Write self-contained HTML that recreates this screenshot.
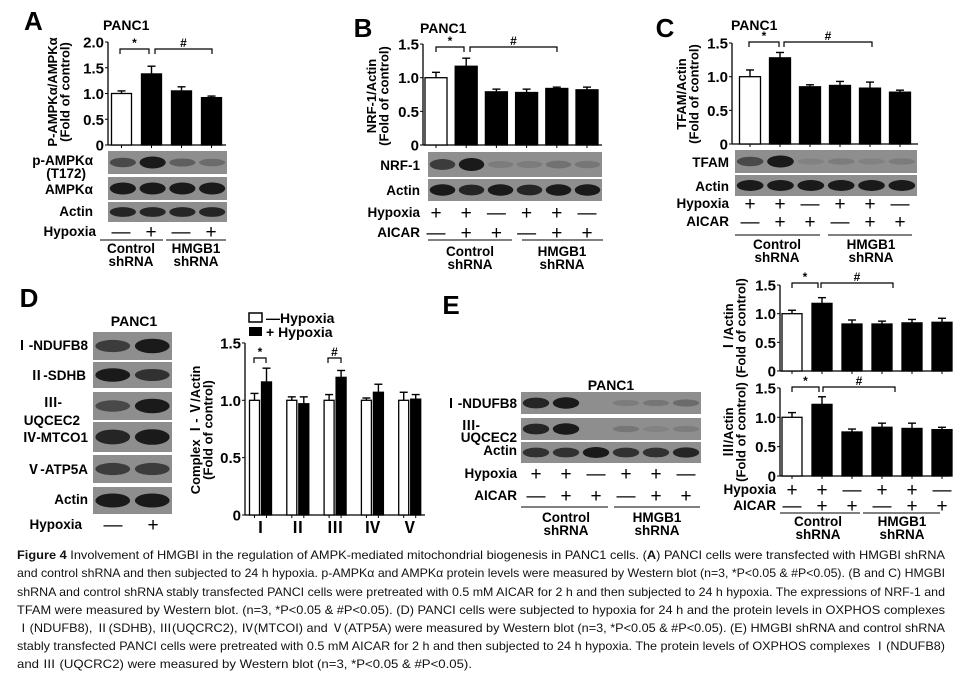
<!DOCTYPE html>
<html><head><meta charset="utf-8"><style>
body{margin:0;background:#fff}
svg{display:block;font-family:"Liberation Sans","Noto Sans CJK SC",sans-serif}
.b{font-weight:bold}
.cap{font-size:11.6px}
</style></head><body>
<svg id="fig" width="962" height="689" viewBox="0 0 962 689" xmlns="http://www.w3.org/2000/svg">
<g id="root"></g>
<g class="cap" fill="#111">
<text x="17" y="559" textLength="928" lengthAdjust="spacingAndGlyphs"><tspan font-weight="bold">Figure 4</tspan> Involvement of HMGBI in the regulation of AMPK-mediated mitochondrial biogenesis in PANC1 cells. (<tspan font-weight="bold">A</tspan>) PANCI cells were transfected with HMGBI shRNA</text>
<text x="17" y="577" textLength="928" lengthAdjust="spacingAndGlyphs">and control shRNA and then subjected to 24 h hypoxia. p-AMPKα and AMPKα protein levels were measured by Western blot (n=3, *P&lt;0.05 &amp; #P&lt;0.05). (B and C) HMGBI</text>
<text x="17" y="596" textLength="928" lengthAdjust="spacingAndGlyphs">shRNA and control shRNA stably transfected PANCI cells were pretreated with 0.5 mM AICAR for 2 h and then subjected to 24 h hypoxia. The expressions of NRF-1 and</text>
<text x="17" y="614" textLength="928" lengthAdjust="spacingAndGlyphs">TFAM were measured by Western blot. (n=3, *P&lt;0.05 &amp; #P&lt;0.05). (D) PANCI cells were subjected to hypoxia for 24 h and the protein levels in OXPHOS complexes</text>
<text x="17" y="632" textLength="928" lengthAdjust="spacingAndGlyphs">Ⅰ(NDUFB8), Ⅱ(SDHB), Ⅲ(UQCRC2), Ⅳ(MTCOI) and Ⅴ(ATP5A) were measured by Western blot (n=3, *P&lt;0.05 &amp; #P&lt;0.05). (E) HMGBI shRNA and control shRNA</text>
<text x="17" y="650" textLength="928" lengthAdjust="spacingAndGlyphs">stably transfected PANCI cells were pretreated with 0.5 mM AICAR for 2 h and then subjected to 24 h hypoxia. The protein levels of OXPHOS complexes Ⅰ(NDUFB8)</text>
<text x="17" y="668" textLength="455" lengthAdjust="spacingAndGlyphs">and Ⅲ (UQCRC2) were measured by Western blot (n=3, *P&lt;0.05 &amp; #P&lt;0.05).</text>
</g>
</svg>
<script>
// ---- data ----
const catsA=['ctrl-','ctrl+','hmgb1-','hmgb1+'];
const valsA=[1.0,1.38,1.05,0.92];
const errA=[0.05,0.15,0.08,0.03];
const ticksA=['0','0.5','1.0','1.5','2.0'];
const catsB=['1','2','3','4','5','6'];
const valsB=[1.0,1.17,0.79,0.78,0.84,0.82];
const errB=[0.08,0.12,0.04,0.05,0.02,0.04];
const valsC=[1.0,1.28,0.85,0.87,0.83,0.77];
const errC=[0.1,0.08,0.03,0.06,0.09,0.03];
const ticks15=['0','0.5','1.0','1.5'];
const catsD=['Ⅰ','Ⅱ','Ⅲ','Ⅳ','Ⅴ'];
const valsDwhite=[1.0,1.0,1.0,1.0,1.0];
const errDwhite=[0.06,0.03,0.05,0.02,0.07];
const valsDblack=[1.16,0.97,1.2,1.07,1.01];
const errDblack=[0.12,0.06,0.06,0.07,0.04];
const valsE1=[1.0,1.18,0.82,0.82,0.84,0.85];
const errE1=[0.06,0.1,0.07,0.05,0.06,0.07];
const valsE3=[1.0,1.22,0.75,0.83,0.81,0.79];
const errE3=[0.08,0.13,0.05,0.07,0.09,0.04];

const NS='http://www.w3.org/2000/svg';
const root=document.getElementById('root');
function el(tag,attrs,parent,text){const e=document.createElementNS(NS,tag);for(const k in attrs)e.setAttribute(k,attrs[k]);if(text!==undefined)e.textContent=text;(parent||root).appendChild(e);return e;}
function txt(x,y,s,anchor,parent,size,weight){return el('text',{x:x,y:y,'text-anchor':anchor||'middle',style:`font-size:${size||13.5}px;font-weight:${weight||'bold'}`},parent,s);}

function chart(name,cfg){
  const g=el('g',{},root);
  
  
  const ys=v=>cfg.y0-v*cfg.unit;
  const xs=i=>cfg.c0+i*cfg.sp;
  el('line',{x1:cfg.ax,y1:cfg.y0,x2:cfg.ax,y2:ys(cfg.max),stroke:'#000','stroke-width':1.3},g);
  el('line',{x1:cfg.ax,y1:cfg.y0,x2:cfg.axEnd,y2:cfg.y0,stroke:'#000','stroke-width':1.3},g);
  cfg.ticks.forEach(t=>{const v=parseFloat(t);el('line',{x1:cfg.ax-3,y1:ys(v),x2:cfg.ax,y2:ys(v),stroke:'#000'},g);
    const lab=txt(cfg.ax-4,ys(v)+5.5,t,'end',g,15);});
  cfg.series.forEach(s=>{
    s.vals.forEach((v,i)=>{
      const cx=xs(i)+(s.off||0);
      const fill=s.fill?s.fill(i):'#000';
      const e=s.err[i];
      el('line',{x1:cx,y1:ys(v),x2:cx,y2:ys(v+e),stroke:'#000','stroke-width':1.4},g);
      el('line',{x1:cx-4,y1:ys(v+e),x2:cx+4,y2:ys(v+e),stroke:'#000','stroke-width':1.4},g);
      const r=el('rect',{x:cx-cfg.w/2,y:ys(v),width:cfg.w,height:v*cfg.unit,fill:fill,stroke:'#000','stroke-width':1.3},g);
      
      
      el('line',{x1:cx,y1:cfg.y0,x2:cx,y2:cfg.y0+3,stroke:'#000'},g);
    });
  });
  (cfg.brackets||[]).forEach(b=>{
    el('path',{d:`M${b[0]} ${b[2]+5}V${b[2]}H${b[1]}V${b[2]+5}`,fill:'none',stroke:'#000','stroke-width':1.2},g);
    txt((b[0]+b[1])/2,b[2]-2,b[3],'middle',g,12);
  });
  if(cfg.ylab){const t=el('text',{transform:`translate(${cfg.ylab[0]},${cfg.ylab[1]}) rotate(-90)`,'text-anchor':'middle',style:'font-size:13px;font-weight:bold'},g);
    
    cfg.ylab[2].forEach((l,k)=>el('tspan',{x:0,dy:k?12.5:0},t,l));}
  return g;
}
function blot(name,x,y,w,h,bands){
  const g=el('g',{},root);
  
  
  el('rect',{x:x,y:y,width:w,height:h,fill:'#8e8e8e'},g);
  const n=bands.length,sp=w/n;
  bands.forEach((d,i)=>{el('ellipse',{cx:x+sp*(i+0.5),cy:y+h/2,rx:sp*0.44,ry:h*0.12+d*h*0.14,fill:'#1a1a1a',opacity:d},g);});
}
function labels(arr,x0,sp,y){arr.forEach((s,i)=>{txt(x0+i*sp,y,s==='+'?'+':'—','middle',root,19,'normal');});}
function rowLabel(x,y,s){txt(x,y,s,'end');}

// ===== A =====
txt(24,30,'A','start',root,26);
txt(103,30,'PANC1','start',root,14);
chart('chart-a',{ax:108,axEnd:226,y0:145,unit:51.5,max:2.0,c0:121.5,sp:30,w:20,ticks:ticksA,
  series:[{vals:valsA,err:errA,fill:i=>i==0?'#fff':'#000'}],
  brackets:[[120,149,49,'*'],[155,212,49,'#']],ylab:[57,92,['P-AMPKα/AMPKα','(Fold of control)']]});
blot('blot-p-ampk',108,151,119,23,[0.6,1,0.4,0.3]);
blot('blot-ampk',108,177,119,23,[1,1,1,1]);
blot('blot-actin-a',108,202,119,20,[0.9,0.9,0.9,0.9]);
rowLabel(93,165,'p-AMPKα');rowLabel(86,178,'(T172)');rowLabel(93,194,'AMPKα');rowLabel(93,216,'Actin');rowLabel(96,236,'Hypoxia');
labels(['-','+','-','+'],121,30,238);
el('line',{x1:100,y1:240,x2:163,y2:240,stroke:'#000'});el('line',{x1:166,y1:240,x2:226,y2:240,stroke:'#000'});
txt(131,253,'Control');txt(131,266,'shRNA');txt(196,253,'HMGB1');txt(196,266,'shRNA');

// ===== B =====
txt(363,37,'B','middle',root,26);
txt(420,33,'PANC1','start',root,14);
chart('chart-b',{ax:423,axEnd:602,y0:145,unit:67.3,max:1.5,c0:436,sp:30.2,w:22,ticks:ticks15,
  series:[{vals:valsB,err:errB,fill:i=>i==0?'#fff':'#000'}],
  brackets:[[436,464,47,'*'],[470,557,47,'#']],ylab:[376,96,['NRF-1/Actin','(Fold of control)']]});
blot('blot-nrf1',428,152,174,25,[0.7,1,0.15,0.15,0.25,0.2]);
blot('blot-actin-b',428,179,174,22,[1,0.9,1,0.9,1,1]);
rowLabel(420,170,'NRF-1');rowLabel(420,195,'Actin');rowLabel(420,217,'Hypoxia');rowLabel(420,237,'AICAR');
labels(['+','+','-','+','+','-'],436,30.2,219);labels(['-','+','+','-','+','+'],436,30.2,239);
el('line',{x1:428,y1:240,x2:512,y2:240,stroke:'#000'});el('line',{x1:522,y1:240,x2:603,y2:240,stroke:'#000'});
txt(470,256,'Control');txt(470,269,'shRNA');txt(562,256,'HMGB1');txt(562,269,'shRNA');

// ===== C =====
txt(665,37,'C','middle',root,26);
txt(731,30,'PANC1','start',root,14);
chart('chart-c',{ax:732,axEnd:918,y0:144,unit:67.3,max:1.5,c0:750,sp:30,w:21,ticks:ticks15,
  series:[{vals:valsC,err:errC,fill:i=>i==0?'#fff':'#000'}],
  brackets:[[749,779,42,'*'],[784,872,42,'#']],ylab:[686,94,['TFAM/Actin','(Fold of control)']]});
blot('blot-tfam',735,150,182,23,[0.6,1,0.1,0.15,0.1,0.15]);
blot('blot-actin-c',735,175,182,21,[1,1,1,1,1,1]);
rowLabel(729,167,'TFAM');rowLabel(729,191,'Actin');rowLabel(729,208,'Hypoxia');rowLabel(729,226,'AICAR');
labels(['+','+','-','+','+','-'],750,30,210);labels(['-','+','+','-','+','+'],750,30,228);
el('line',{x1:735,y1:235,x2:820,y2:235,stroke:'#000'});el('line',{x1:828,y1:235,x2:912,y2:235,stroke:'#000'});
txt(777,249,'Control');txt(777,262,'shRNA');txt(871,249,'HMGB1');txt(871,262,'shRNA');

// ===== D =====
txt(29,307,'D','middle',root,26);
txt(134,326,'PANC1',undefined,root,14);
blot('blot-ndufb8-d',93,332,79,28,[0.7,1]);
blot('blot-sdhb-d',93,362,79,26,[1,0.8]);
blot('blot-uqcrc2-d',93,392,79,28,[0.6,1]);
blot('blot-mtco1-d',93,422,79,30,[0.9,1]);
blot('blot-atp5a-d',93,455,79,28,[0.7,0.7]);
blot('blot-actin-d',93,487,79,27,[1,1]);
rowLabel(88,350,'Ⅰ-NDUFB8');rowLabel(86,380,'Ⅱ-SDHB');rowLabel(62,407,'Ⅲ-');rowLabel(80,425,'UQCEC2');rowLabel(88,442,'Ⅳ-MTCO1');rowLabel(88,474,'Ⅴ-ATP5A');rowLabel(88,504,'Actin');rowLabel(82,529,'Hypoxia');
labels(['-','+'],113,40,531);
chart('chart-d',{ax:245,axEnd:425,y0:515,unit:114.7,max:1.5,c0:260.5,sp:37.3,w:10,ticks:ticks15,
  series:[{vals:valsDwhite,err:errDwhite,fill:()=>'#fff',off:-6},{vals:valsDblack,err:errDblack,fill:()=>'#000',off:6}],
  brackets:[[254,266,358,'*'],[328,341,358,'#']],ylab:[200,430,['Complex Ⅰ- Ⅴ/Actin','(Fold of control)']]});
catsD.forEach((c,i)=>{const t=txt(260.5+i*37.3,533,c,'middle',root,16,'bold');});
el('rect',{x:249,y:313,width:13,height:9,fill:'#fff',stroke:'#000','stroke-width':1.5});
el('rect',{x:249,y:327,width:13,height:9,fill:'#000'});
txt(266,323,'—Hypoxia','start',root,14);txt(266,337,'+ Hypoxia','start',root,14);

// ===== E =====
txt(451,314,'E','middle',root,26);
txt(611,390,'PANC1',undefined,root,14);
blot('blot-ndufb8-e',521,392,180,22,[0.9,1,0,0.15,0.2,0.3]);
blot('blot-uqcrc2-e',521,418,180,22,[0.9,1,0,0.2,0.1,0.15]);
blot('blot-actin-e',521,442,180,21,[0.8,0.8,1,0.8,0.8,0.9]);
rowLabel(517,408,'Ⅰ-NDUFB8');rowLabel(480,430,'Ⅲ-');rowLabel(517,442,'UQCEC2');rowLabel(517,455,'Actin');rowLabel(517,478,'Hypoxia');rowLabel(517,500,'AICAR');
labels(['+','+','-','+','+','-'],536,30,480);labels(['-','+','+','-','+','+'],536,30,502);
el('line',{x1:521,y1:507,x2:608,y2:507,stroke:'#000'});el('line',{x1:614,y1:507,x2:700,y2:507,stroke:'#000'});
txt(566,522,'Control');txt(566,535,'shRNA');txt(657,522,'HMGB1');txt(657,535,'shRNA');
chart('chart-e-complex1',{ax:780,axEnd:950,y0:371,unit:57.3,max:1.5,c0:792,sp:30,w:20,ticks:ticks15,
  series:[{vals:valsE1,err:errE1,fill:i=>i==0?'#fff':'#000'}],
  brackets:[[792,818,283,'*'],[821,893,283,'#']],ylab:[733,328,['Ⅰ/Actin','(Fold of control)']]});
chart('chart-e-complex3',{ax:780,axEnd:950,y0:476,unit:58.7,max:1.5,c0:792,sp:30,w:20,ticks:ticks15,
  series:[{vals:valsE3,err:errE3,fill:i=>i==0?'#fff':'#000'}],
  brackets:[[792,819,387,'*'],[823,895,387,'#']],ylab:[733,432,['Ⅲ/Actin','(Fold of control)']]});
rowLabel(776,494,'Hypoxia');rowLabel(776,510,'AICAR');
labels(['+','+','-','+','+','-'],792,30,496);labels(['-','+','+','-','+','+'],792,30,512);
el('line',{x1:780,y1:513,x2:860,y2:513,stroke:'#000'});el('line',{x1:863,y1:513,x2:940,y2:513,stroke:'#000'});
txt(818,526,'Control');txt(818,539,'shRNA');txt(902,526,'HMGB1');txt(902,539,'shRNA');
</script>
</body></html>
